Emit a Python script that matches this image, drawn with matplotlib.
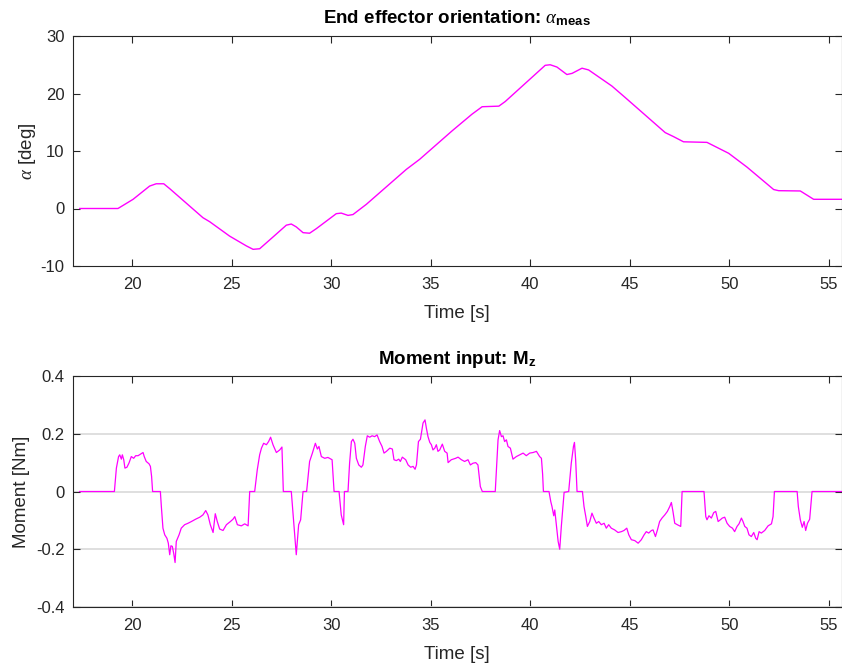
import matplotlib
matplotlib.use('Agg')
import matplotlib.pyplot as plt

plt.rcParams['font.family'] = ['Liberation Sans', 'DejaVu Sans']
plt.rcParams['mathtext.fontset'] = 'custom'
plt.rcParams['mathtext.rm'] = 'Liberation Sans'
plt.rcParams['mathtext.it'] = 'Liberation Serif:italic'
plt.rcParams['mathtext.bf'] = 'Liberation Sans:bold'
plt.rcParams['axes.unicode_minus'] = False

# end effector orientation
t_alpha = [17.36, 19.28, 20.04, 20.87, 21.2, 21.58, 21.88, 23.55, 23.89, 24.89,
           25.73, 26.07, 26.4, 27.07, 27.74, 27.99, 28.24, 28.58, 28.91, 29.25,
           30.25, 30.5, 30.84, 31.09, 31.76, 33.77, 34.44, 36.07, 37.07, 37.58,
           38.42, 38.74, 40.75, 41.0, 41.34, 41.84, 42.1, 42.6, 42.93, 44.1,
           44.77, 46.78, 47.2, 47.7, 48.88, 49.97, 50.89, 52.23, 52.48, 53.57,
           54.24, 55.66]
alpha = [0.0, 0.0, 1.6, 3.9, 4.3, 4.3, 3.45, -1.6, -2.3, -4.8,
         -6.5, -7.1, -7.0, -4.96, -2.9, -2.7, -3.2, -4.2, -4.3, -3.5,
         -0.9, -0.8, -1.2, -1.05, 0.72, 6.8, 8.55, 13.5, 16.4, 17.7,
         17.8, 18.6, 24.9, 25.0, 24.6, 23.3, 23.5, 24.4, 24.1, 21.3,
         19.3, 13.2, 12.5, 11.6, 11.5, 9.6, 7.2, 3.3, 3.1, 3.05,
         1.6, 1.6]

# moment input Mz
t_mz = [17.35, 19.1, 19.2, 19.31, 19.37, 19.45, 19.5, 19.57, 19.63, 19.73, 19.83, 19.95,
        20.07, 20.17, 20.29, 20.4, 20.54, 20.6, 20.7, 20.84, 20.91, 20.97, 21.02, 21.41,
        21.46, 21.54, 21.63, 21.74, 21.81, 21.88, 21.94, 22.01, 22.08, 22.15, 22.21, 22.35,
        22.46, 22.63, 22.8, 22.97, 23.18, 23.39, 23.55, 23.69, 23.8, 23.92, 24.06, 24.17,
        24.27, 24.39, 24.56, 24.73, 24.93, 25.06, 25.15, 25.28, 25.48, 25.65, 25.82, 25.9,
        26.15, 26.28, 26.4, 26.49, 26.6, 26.74, 26.85, 26.95, 27.07, 27.24, 27.41, 27.52,
        27.59, 27.99, 28.09, 28.24, 28.36, 28.46, 28.58, 28.76, 28.91, 29.05, 29.2, 29.3,
        29.38, 29.5, 29.67, 29.83, 30.04, 30.14, 30.39, 30.5, 30.62, 30.66, 30.84, 30.92,
        31.01, 31.09, 31.18, 31.26, 31.38, 31.51, 31.59, 31.71, 31.81, 31.93, 32.05, 32.18,
        32.3, 32.43, 32.55, 32.65, 32.77, 32.94, 33.07, 33.15, 33.27, 33.39, 33.47, 33.57,
        33.74, 33.86, 33.99, 34.11, 34.21, 34.28, 34.38, 34.48, 34.61, 34.71, 34.78, 34.86,
        34.95, 35.03, 35.11, 35.2, 35.28, 35.36, 35.45, 35.58, 35.7, 35.82, 35.87, 36.03,
        36.25, 36.37, 36.54, 36.7, 36.87, 36.99, 37.12, 37.26, 37.37, 37.49, 37.59, 38.24,
        38.38, 38.46, 38.55, 38.63, 38.71, 38.8, 38.88, 39.0, 39.13, 39.3, 39.47, 39.64,
        39.8, 39.97, 40.14, 40.31, 40.47, 40.56, 40.62, 40.66, 40.94, 41.03, 41.09, 41.18,
        41.23, 41.31, 41.4, 41.48, 41.56, 41.7, 41.93, 42.06, 42.17, 42.22, 42.28, 42.35,
        42.62, 42.7, 42.79, 42.87, 42.99, 43.1, 43.2, 43.32, 43.44, 43.57, 43.71, 43.82,
        43.94, 44.07, 44.24, 44.41, 44.58, 44.71, 44.85, 44.95, 45.08, 45.25, 45.42, 45.58,
        45.72, 45.83, 45.95, 46.09, 46.17, 46.29, 46.39, 46.5, 46.62, 46.76, 46.89, 47.01,
        47.09, 47.17, 47.26, 47.39, 47.56, 47.63, 48.73, 48.82, 48.88, 48.98, 49.1, 49.22,
        49.32, 49.44, 49.55, 49.65, 49.77, 49.89, 50.02, 50.16, 50.27, 50.39, 50.49, 50.61,
        50.69, 50.78, 50.89, 50.99, 51.11, 51.23, 51.33, 51.4, 51.5, 51.61, 51.78, 51.95,
        52.12, 52.2, 52.27, 53.41, 53.47, 53.57, 53.67, 53.76, 53.84, 53.93, 54.04, 54.16,
        55.67]
mz = [0.0, 0.0, 0.081, 0.121, 0.127, 0.112, 0.127, 0.11, 0.081, 0.084, 0.098, 0.121,
      0.115, 0.124, 0.124, 0.129, 0.135, 0.121, 0.104, 0.096, 0.087, 0.052, 0.0, 0.0,
      -0.052, -0.127, -0.15, -0.162, -0.179, -0.219, -0.188, -0.19, -0.214, -0.246, -0.173, -0.15,
      -0.127, -0.115, -0.11, -0.104, -0.096, -0.089, -0.081, -0.066, -0.081, -0.115, -0.142, -0.077,
      -0.104, -0.13, -0.135, -0.115, -0.104, -0.096, -0.087, -0.115, -0.119, -0.112, -0.119, 0.0,
      0.0, 0.075, 0.127, 0.15, 0.167, 0.162, 0.173, 0.188, 0.162, 0.135, 0.144, 0.154,
      0.0, 0.0, -0.087, -0.219, -0.115, -0.098, 0.0, 0.0, 0.104, 0.133, 0.167, 0.147,
      0.156, 0.121, 0.115, 0.118, 0.11, 0.0, 0.0, -0.081, -0.115, 0.0, 0.0, 0.098,
      0.173, 0.181, 0.167, 0.115, 0.092, 0.084, 0.092, 0.156, 0.193, 0.188, 0.193, 0.19,
      0.196, 0.173, 0.156, 0.133, 0.139, 0.15, 0.147, 0.11, 0.107, 0.112, 0.104, 0.119,
      0.11, 0.092, 0.084, 0.087, 0.077, 0.092, 0.173, 0.181, 0.237, 0.248, 0.219, 0.19,
      0.17, 0.162, 0.144, 0.15, 0.162, 0.139, 0.144, 0.164, 0.139, 0.133, 0.1, 0.11,
      0.115, 0.119, 0.11, 0.104, 0.11, 0.092, 0.098, 0.1, 0.092, 0.017, 0.0, 0.0,
      0.179, 0.211, 0.19, 0.193, 0.173, 0.179, 0.156, 0.15, 0.112, 0.121, 0.127, 0.133,
      0.124, 0.133, 0.135, 0.139, 0.121, 0.115, 0.06, 0.0, 0.0, -0.035, -0.052, -0.084,
      -0.064, -0.115, -0.173, -0.2, -0.121, -0.003, 0.0, 0.098, 0.156, 0.17, 0.11, 0.0,
      0.0, -0.052, -0.087, -0.121, -0.104, -0.075, -0.092, -0.11, -0.104, -0.115, -0.11, -0.127,
      -0.115, -0.127, -0.133, -0.142, -0.139, -0.135, -0.127, -0.15, -0.167, -0.17, -0.179, -0.167,
      -0.15, -0.139, -0.144, -0.135, -0.133, -0.156, -0.133, -0.104, -0.092, -0.081, -0.069, -0.052,
      -0.038, -0.069, -0.11, -0.115, -0.121, 0.0, 0.0, -0.087, -0.098, -0.084, -0.092, -0.073,
      -0.069, -0.104, -0.098, -0.092, -0.089, -0.11, -0.121, -0.127, -0.139, -0.121, -0.112, -0.092,
      -0.104, -0.121, -0.127, -0.15, -0.156, -0.142, -0.162, -0.167, -0.139, -0.144, -0.135, -0.119,
      -0.112, -0.087, 0.0, 0.0, -0.052, -0.098, -0.124, -0.104, -0.135, -0.11, -0.096, 0.0,
      0.0]

ink = '#262626'
W, H = 842, 670
fig = plt.figure(figsize=(W / 100, H / 100), dpi=100)
left = 73 / W
width = (841.5 - 73) / W
ax1 = fig.add_axes([left, 1 - 266 / H, width, 230 / H])
ax2 = fig.add_axes([left, 1 - 607 / H, width, 231 / H])

for ax in (ax1, ax2):
    ax.set_xlim(17.02, 55.64)
    ax.set_xticks([20, 25, 30, 35, 40, 45, 50, 55])
    ax.tick_params(direction='in', length=5, width=0.8, colors=ink,
                   labelsize=12, top=True, right=True, pad=6)
    ax.tick_params(axis='x', pad=8)
    for s in ax.spines.values():
        s.set_color(ink)
        s.set_linewidth(0.8)
    ax.set_xlabel('Time [s]', fontsize=13.5, color=ink, labelpad=9)

ax1.plot(t_alpha, alpha, color='#ff00ff', lw=1.0)
ax1.set_ylim(-10, 30)
ax1.set_yticks([-10, 0, 10, 20, 30])
ax1.set_ylabel(r'$\alpha$ [deg]', fontsize=13.5, color=ink, labelpad=2)
ax1.set_title(r'End effector orientation: $\alpha_{\mathbf{meas}}$',
              fontsize=13.5, fontweight='bold', color='black', pad=9)

ax2.plot(t_mz, mz, color='#ff00ff', lw=0.9)
ax2.set_ylim(-0.4, 0.4)
ax2.set_yticks([-0.4, -0.2, 0, 0.2, 0.4])
ax2.set_yticklabels(['-0.4', '-0.2', '0', '0.2', '0.4'])
ax2.yaxis.grid(True, color='#dcdcdc', lw=1.3)
ax2.set_axisbelow(True)
ax2.set_ylabel('Moment [Nm]', fontsize=13.5, color=ink, labelpad=4)
ax2.set_title(r'Moment input: M$_{\mathbf{z}}$',
              fontsize=13.5, fontweight='bold', color='black', pad=9)

fig.savefig('out.png', dpi=100)
